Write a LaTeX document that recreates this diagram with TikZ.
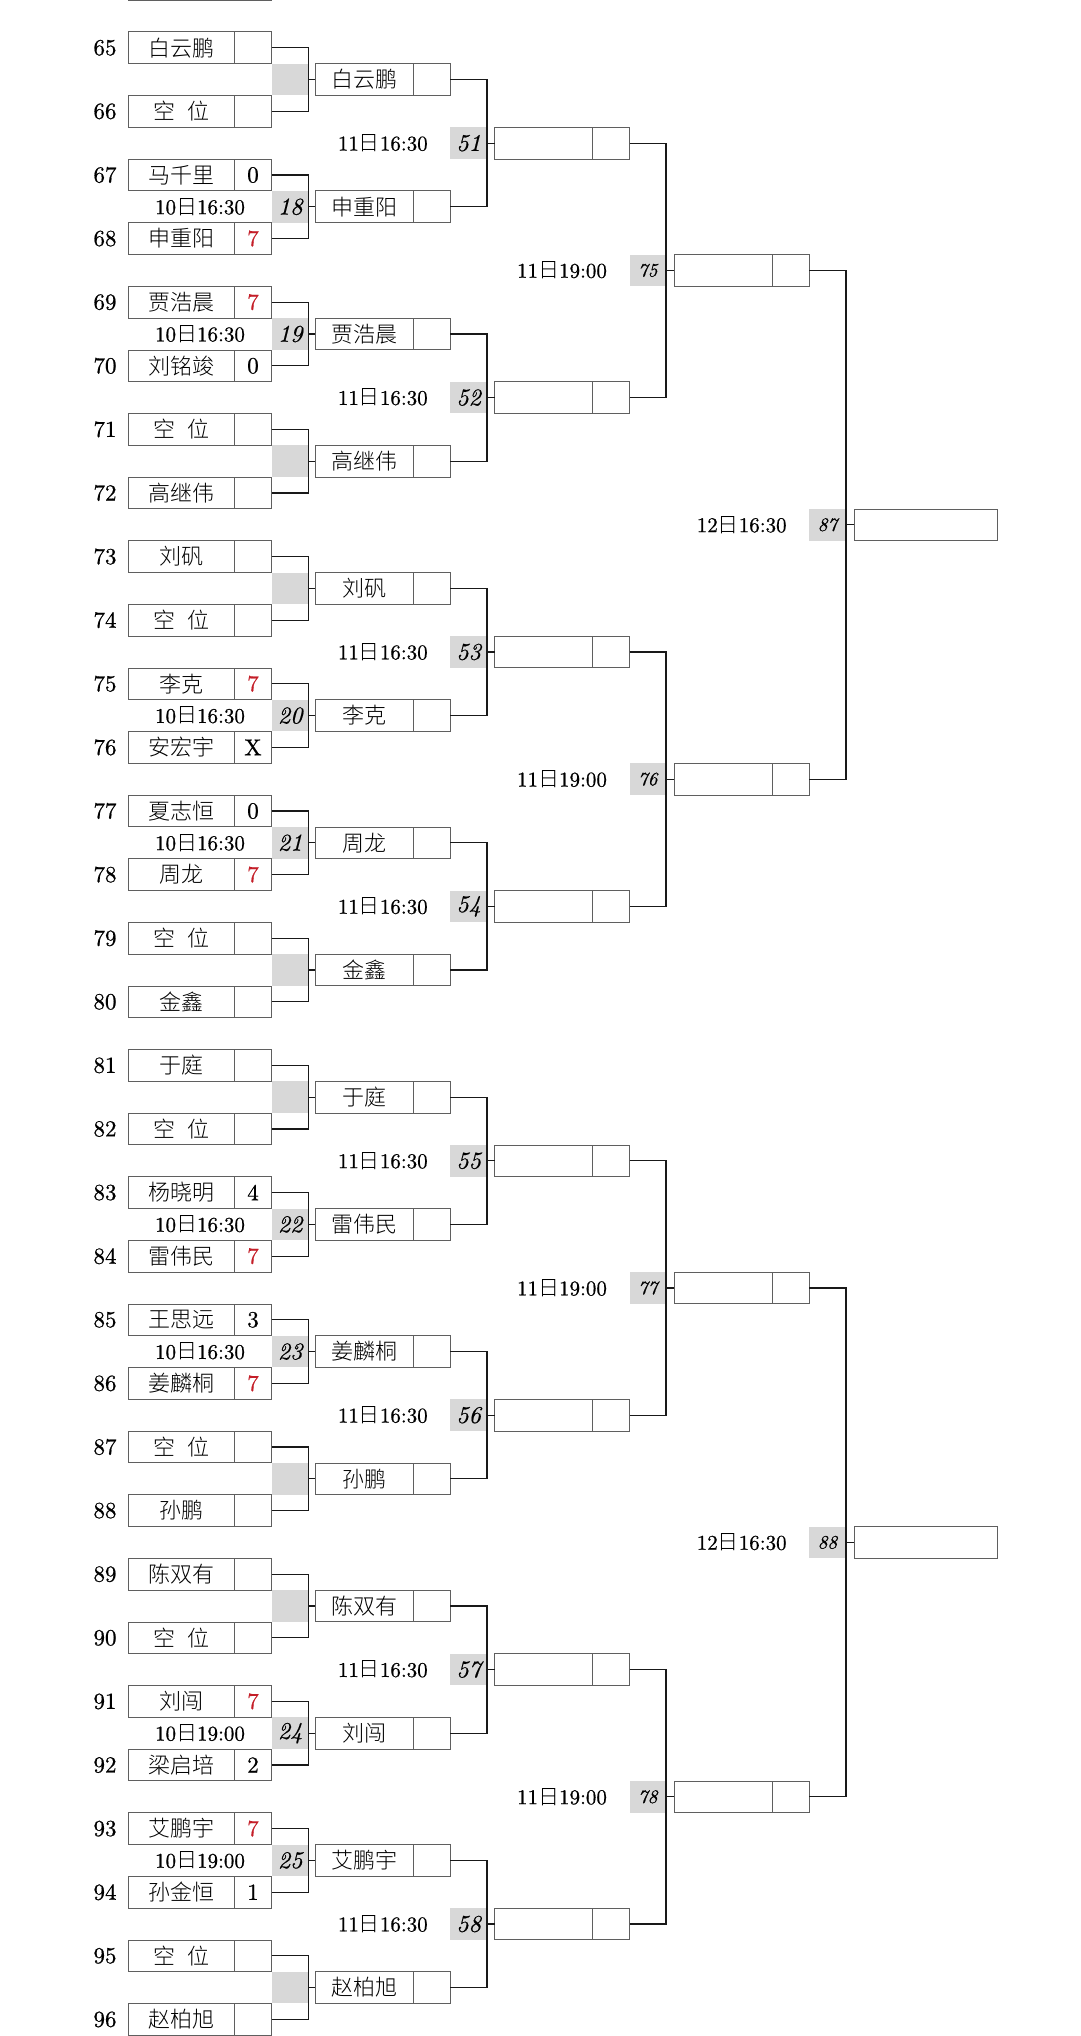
\documentclass[tikz,border=0pt]{standalone}
\usepackage{fontspec}
\newfontfamily\cjk{Noto Sans CJK SC}[UprightFont=* Light]
\newfontfamily\numf{lmroman10-regular.otf}[FakeBold=0.7]
\newfontfamily\itf{lmroman10-italic.otf}[FakeBold=0.6]
\definecolor{scred}{RGB}{196,30,40}
\definecolor{boxgray}{RGB}{95,95,95}
\definecolor{fillgray}{RGB}{216,216,216}
\newcommand\ri{{\cjk 日}}
\newcommand\kw{空\hspace{0.55em}位}
\newcommand\R[1]{\textcolor{scred}{#1}}
\tikzset{
 cell/.style={draw=boxgray, line width=0.9pt, inner sep=0pt, outer sep=0pt, minimum height=31.7pt, anchor=west},
 nameA/.style={cell, minimum width=105.8pt, font=\cjk\fontsize{22}{26}\selectfont},
 scoreA/.style={cell, minimum width=37.4pt, font=\numf\fontsize{23}{26}\selectfont},
 nameB/.style={cell, minimum width=98pt, font=\cjk\fontsize{22}{26}\selectfont},
 scoreB/.style={cell, minimum width=37pt},
 finalbox/.style={cell, minimum width=143.5pt},
 greyA/.style={fill=fillgray, inner sep=0pt, outer sep=0pt, minimum width=37pt, minimum height=31.7pt, anchor=east, font=\itf\fontsize{24}{28}\selectfont},
 greyC/.style={greyA, font=\itf\fontsize{19}{22}\selectfont},
 seed/.style={font=\numf\fontsize{23}{26}\selectfont, inner sep=0pt},
 timelbl/.style={font=\numf\fontsize{21}{24}\selectfont, inner sep=0pt},
 bracket/.style={draw=black!90, line width=1.3pt},
}
\begin{document}
\begin{tikzpicture}[x=1pt,y=-1pt]
\useasboundingbox (0,0) rectangle (1080,2036);
% partial box at the top
\node[nameA] (p64n) at (128.5,-15.8) {};
\node[scoreA] (p64) at (p64n.east) {};
% first round players
\foreach \i/\num/\nm/\sc in {0/65/白云鹏/{},1/66/\kw/{},2/67/马千里/0,3/68/申重阳/\R{7},
 4/69/贾浩晨/\R{7},5/70/刘铭竣/0,6/71/\kw/{},7/72/高继伟/{},
 8/73/刘矾/{},9/74/\kw/{},10/75/李克/\R{7},11/76/安宏宇/X,
 12/77/夏志恒/0,13/78/周龙/\R{7},14/79/\kw/{},15/80/金鑫/{},
 16/81/于庭/{},17/82/\kw/{},18/83/杨晓明/4,19/84/雷伟民/\R{7},
 20/85/王思远/3,21/86/姜麟桐/\R{7},22/87/\kw/{},23/88/孙鹏/{},
 24/89/陈双有/{},25/90/\kw/{},26/91/刘闯/\R{7},27/92/梁启培/2,
 28/93/艾鹏宇/\R{7},29/94/孙金恒/1,30/95/\kw/{},31/96/赵柏旭/{}}{
 \pgfmathsetmacro\yy{47.8+63.6*\i}
 \node[nameA] (p\num n) at (128.5,\yy) {\nm};
 \node[scoreA] (p\num) at (p\num n.east) {\sc};
 \node[seed] (s\num) at (105,\yy) {\num};
}
% first round matches
\foreach \j/\lab/\win in {0//白云鹏,1/18/申重阳,2/19/贾浩晨,3//高继伟,4//刘矾,5/20/李克,6/21/周龙,7//金鑫,
 8//于庭,9/22/雷伟民,10/23/姜麟桐,11//孙鹏,12//陈双有,13/24/刘闯,14/25/艾鹏宇,15//赵柏旭}{
 \pgfmathsetmacro\yy{47.8+63.6*(2*\j+0.5)}
 \pgfmathtruncatemacro\ta{65+2*\j}
 \pgfmathtruncatemacro\tb{66+2*\j}
 \node[greyA] (gA\j) at (308.7,\yy) {\lab};
 \node[nameB] (Bn\j) at (315.3,\yy) {\win};
 \node[scoreB] (B\j) at (Bn\j.east) {};
 \draw[bracket] (p\ta.east) -| (gA\j.east) |- (p\tb.east);
 \draw[bracket] (gA\j.east) -- (Bn\j.west);
}
\foreach \j/\tm in {1/10\ri16:30,2/10\ri16:30,5/10\ri16:30,6/10\ri16:30,9/10\ri16:30,10/10\ri16:30,13/10\ri19:00,14/10\ri19:00}{
 \pgfmathsetmacro\yy{47.8+63.6*(2*\j+0.5)}
 \node[timelbl] (tA\j) at (200,\yy) {\tm};
}
% second round
\foreach \k in {0,...,7}{
 \pgfmathsetmacro\yy{47.8+63.6*(4*\k+1.5)}
 \pgfmathtruncatemacro\ta{2*\k}
 \pgfmathtruncatemacro\tb{2*\k+1}
 \pgfmathtruncatemacro\lab{51+\k}
 \node[greyA, minimum width=36.7pt] (gB\k) at (487,\yy) {\lab};
 \node[nameB] (Cn\k) at (494.5,\yy) {};
 \node[scoreB] (C\k) at (Cn\k.east) {};
 \draw[bracket] (B\ta.east) -| (gB\k.east) |- (B\tb.east);
 \draw[bracket] (gB\k.east) -- (Cn\k.west);
 \node[timelbl] (tB\k) at (382.8,\yy) {11\ri16:30};
}
% third round
\foreach \m in {0,...,3}{
 \pgfmathsetmacro\yy{47.8+63.6*(8*\m+3.5)}
 \pgfmathtruncatemacro\ta{2*\m}
 \pgfmathtruncatemacro\tb{2*\m+1}
 \pgfmathtruncatemacro\lab{75+\m}
 \node[greyC, minimum width=36.5pt] (gC\m) at (666,\yy) {\lab};
 \node[nameB] (Dn\m) at (674,\yy) {};
 \node[scoreB] (D\m) at (Dn\m.east) {};
 \draw[bracket] (C\ta.east) -| (gC\m.east) |- (C\tb.east);
 \draw[bracket] (gC\m.east) -- (Dn\m.west);
 \node[timelbl] (tC\m) at (562,\yy) {11\ri19:00};
}
% fourth round
\foreach \n in {0,1}{
 \pgfmathsetmacro\yy{47.8+63.6*(16*\n+7.5)}
 \pgfmathtruncatemacro\ta{2*\n}
 \pgfmathtruncatemacro\tb{2*\n+1}
 \pgfmathtruncatemacro\lab{87+\n}
 \node[greyC, minimum width=37pt] (gD\n) at (846,\yy) {\lab};
 \node[finalbox] (E\n) at (854,\yy) {};
 \draw[bracket] (D\ta.east) -| (gD\n.east) |- (D\tb.east);
 \draw[bracket] (gD\n.east) -- (E\n.west);
 \node[timelbl] (tD\n) at (741.7,\yy) {12\ri16:30};
}
\end{tikzpicture}
\end{document}
